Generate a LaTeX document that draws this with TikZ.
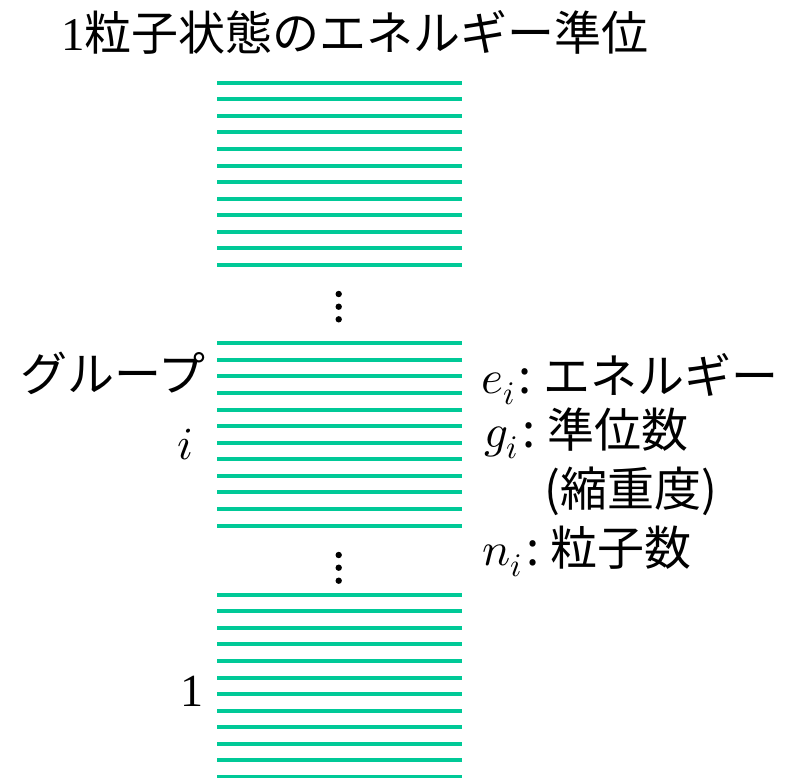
\documentclass[tikz,border=0pt]{standalone}
\usepackage{fontspec}
\usepackage{unicode-math}
\setmainfont{Liberation Serif}
\setmathfont{Latin Modern Math}
\newfontfamily\jp{Noto Sans CJK JP}
\definecolor{lvgreen}{RGB}{0,201,151}
\begin{document}
\begin{tikzpicture}[x=1pt,y=-1pt,
  lvl/.style={draw=lvgreen, line width=4pt},
  jtxt/.style={font=\jp\fontsize{47}{50}\selectfont, inner sep=0pt, anchor=base west},
  serif/.style={font=\rmfamily\fontsize{46}{50}\selectfont, inner sep=0pt, anchor=base},
  vdot/.style={fill=black}
]
\useasboundingbox (0,0) rectangle (785,777);
% energy levels
\foreach \g in {82.7,343.3,594.7}{
  \foreach \k in {0,...,11}{
    \draw[lvl] (217,\g+\k*16.57) -- (462,\g+\k*16.57);
  }
}
% vertical dots
\foreach \y in {294,306.7,319.3,555,567.7,580.7}{
  \fill[vdot] (338.7,\y) circle (3.2pt);
}
% title
\node[jtxt] (title) at (61,50) {{\rmfamily 1}粒子状態のエネルギー準位};
% left labels
\node[jtxt] (group) at (20,391) {グループ};
\node[serif] (gidx) at (185,459) {$i$};
\node[serif] (one) at (192,706) {1};
% right labels
\node[jtxt] (ene) at (481,393) {$e_i$\kern4pt:\kern11pt エネルギー};
\node[jtxt] (deg) at (484,447) {$g_i$\kern4pt:\kern12pt 準位数};
\node[jtxt] (degn) at (544,506) {(縮重度)};
\node[jtxt] (num) at (482,565) {$n_i$\kern4pt:\kern11pt 粒子数};
\end{tikzpicture}
\end{document}
